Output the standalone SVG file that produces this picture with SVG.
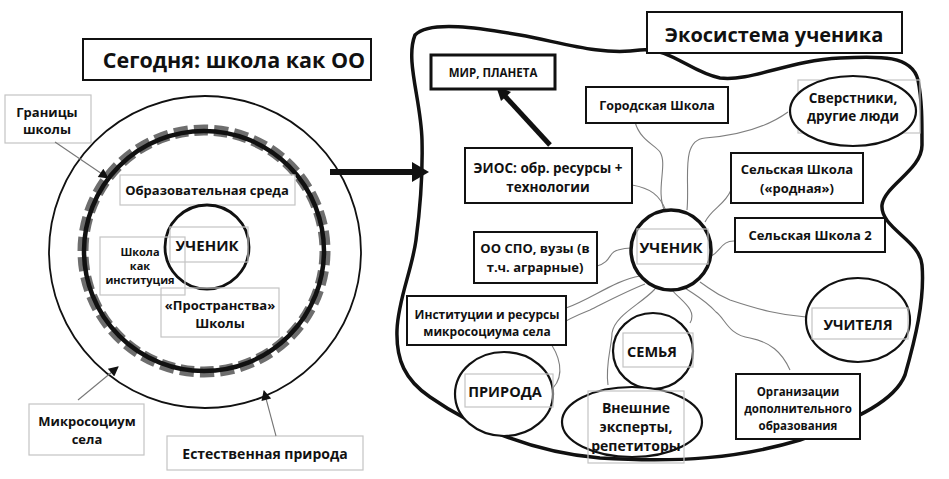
<svg xmlns="http://www.w3.org/2000/svg" width="949" height="479" viewBox="0 0 949 479">
<defs>
<style>
text{font-family:"Open Sans","Liberation Sans",sans-serif;font-weight:bold;fill:#111;text-anchor:middle}
.tb{fill:#fff;stroke:#111;stroke-width:2}
.gb{fill:none;stroke:#c4c4c4;stroke-width:1.2}
.ell{fill:#fff;stroke:#111;stroke-width:2.2}
.con{fill:none;stroke:#7e7e7e;stroke-width:1.1}
.call{fill:none;stroke:#777;stroke-width:1.1}
</style>
<marker id="ah" viewBox="0 0 10 10" refX="9" refY="5" markerWidth="12" markerHeight="10" markerUnits="userSpaceOnUse" orient="auto"><path d="M0,0 L10,5 L0,10 Z" fill="#111"/></marker>
</defs>
<rect width="949" height="479" fill="#fff"/>

<!-- LEFT -->
<g id="title-left"><rect class="tb" x="83" y="39" width="288" height="41"/><text x="234" y="68" font-size="21.5">Сегодня: школа как ОО</text></g>
<g id="outer-circle"><circle cx="205" cy="252" r="156" fill="none" stroke="#111" stroke-width="1.8"/></g>
<g id="school-border"><circle cx="204" cy="251" r="121" fill="none" stroke="#6e6e6e" stroke-width="11" stroke-dasharray="14 6"/><circle cx="204" cy="251" r="120" fill="none" stroke="#111" stroke-width="4.5"/></g>
<g id="edu-env"><rect x="120" y="175" width="175" height="30" fill="#fff" class="gb"/><text x="207" y="195" font-size="13">Образовательная среда</text></g>
<g id="student-left"><circle cx="207" cy="247" r="42" fill="#fff" stroke="#111" stroke-width="2.8"/><rect class="gb" x="170" y="227" width="78" height="35"/><text x="207" y="251" font-size="15">УЧЕНИК</text></g>
<g id="school-inst"><rect class="gb" x="100" y="237" width="85" height="58"/><text font-size="11"><tspan x="140" y="256">Школа</tspan><tspan x="140" y="270">как</tspan><tspan x="140" y="284">институция</tspan></text></g>
<g id="spaces"><rect x="161" y="288" width="118" height="49" fill="#fff" class="gb"/><text font-size="13"><tspan x="220" y="310">«Пространства»</tspan><tspan x="220" y="328">Школы</tspan></text></g>
<g id="borders-label"><rect class="gb" x="5" y="95" width="86" height="48"/><text font-size="13"><tspan x="47" y="117">Границы</tspan><tspan x="47" y="134">школы</tspan></text></g>
<g id="micro-label"><rect class="gb" x="29" y="404" width="115" height="51"/><text font-size="13"><tspan x="87" y="426">Микросоциум</tspan><tspan x="87" y="444">села</tspan></text></g>
<g id="nature-label"><rect class="gb" x="167" y="436" width="196" height="34"/><text x="265" y="459" font-size="14">Естественная природа</text></g>

<g id="callouts">
<path class="call" d="M55,142 L108,178" marker-end="url(#ah)"/>
<path class="call" d="M78,400 L118,367" marker-end="url(#ah)"/>
<path class="call" d="M276,436 L264,391" marker-end="url(#ah)"/>
</g>

<g id="big-arrow"><path d="M330,172 L418,172" stroke="#111" stroke-width="6" fill="none"/><path d="M412,162 L429,172 L412,182 Z" fill="#111"/></g>

<!-- RIGHT -->
<g id="ecosystem-blob"><path d="M415,35 C430,20 480,28 520,35 C560,42 600,56 640,50 C670,47 690,72 720,78 C750,82 790,60 840,58 C880,56 912,55 918,80 C922,100 922,120 922,145 C922,170 885,185 882,205 C880,228 920,240 922,265 C925,300 915,340 905,375 C895,400 860,418 800,440 C740,458 680,463 600,458 C530,452 470,425 430,397 C405,380 396,360 397,330 C398,300 412,270 416,240 C420,210 423,180 422,140 C421,100 405,60 415,35 Z" fill="none" stroke="#111" stroke-width="3.5"/></g>

<g id="title-right"><rect class="tb" x="647" y="12" width="255" height="41"/><text x="774" y="42" font-size="20">Экосистема ученика</text></g>

<g id="connectors">
<path class="con" d="M635,122 C640,140 655,145 660,152 C668,165 655,190 665,212"/>
<path class="con" d="M788,112 C770,125 745,135 705,138 C680,140 690,180 687,210"/>
<path class="con" d="M632,185 C650,188 660,195 666,211"/>
<path class="con" d="M731,190 C725,205 712,208 705,222"/>
<path class="con" d="M735,241 C722,240 720,252 711,256"/>
<path class="con" d="M597,266 C612,262 608,252 618,250 C625,248 628,248 631,248"/>
<path class="con" d="M566,308 C590,300 615,280 640,276"/>
<path class="con" d="M553,388 C565,375 560,355 548,340 C545,330 570,318 590,310 C610,300 625,292 645,284"/>
<path class="con" d="M690,323 C698,310 680,300 672,290"/>
<path class="con" d="M608,385 C605,365 612,345 612,333 C615,315 640,305 655,289"/>
<path class="con" d="M806,317 C780,315 760,310 730,300 C715,294 712,290 700,282"/>
<path class="con" d="M790,370 C782,352 770,342 750,338 C728,335 725,318 716,312 C705,300 695,295 685,288"/>
</g>

<g id="arrow-mir"><path d="M550,145 L504,95" stroke="#111" stroke-width="5" fill="none"/><path d="M496,86 L511,92 L501,101 Z" fill="#111"/></g>

<g id="mir"><rect x="431" y="55" width="124" height="34" fill="#fff" stroke="#111" stroke-width="3"/><text x="493" y="77" font-size="11.5">МИР, ПЛАНЕТА</text></g>
<g id="city-school"><rect class="tb" x="586" y="87" width="142" height="36"/><text x="657" y="110" font-size="12.5">Городская Школа</text></g>
<g id="peers"><rect class="gb" x="798" y="80" width="122" height="53"/><ellipse class="ell" cx="853" cy="111" rx="63" ry="35" fill="none"/><text font-size="13.5"><tspan x="853" y="103">Сверстники,</tspan><tspan x="853" y="121">другие люди</tspan></text></g>
<g id="eios"><rect class="tb" x="465" y="148" width="167" height="55"/><text font-size="13.5"><tspan x="548" y="173">ЭИОС: обр. ресурсы +</tspan><tspan x="548" y="192">технологии</tspan></text></g>
<g id="rural-school"><rect class="tb" x="731" y="153" width="132" height="50"/><text font-size="13"><tspan x="797" y="174">Сельская Школа</tspan><tspan x="797" y="193">(«родная»)</tspan></text></g>
<g id="rural-school-2"><rect class="tb" x="735" y="218" width="150" height="34"/><text x="810" y="240" font-size="13">Сельская Школа 2</text></g>
<g id="student-right"><circle cx="671" cy="250" r="40" fill="#fff" stroke="#111" stroke-width="3.5"/><rect class="gb" x="637" y="229" width="71" height="35"/><text x="671" y="253" font-size="15">УЧЕНИК</text></g>
<g id="spo"><rect class="tb" x="474" y="232" width="123" height="51"/><text font-size="13"><tspan x="535" y="253">ОО СПО, вузы (в</tspan><tspan x="535" y="272">т.ч. аграрные)</tspan></text></g>
<g id="institutions"><rect class="tb" x="407" y="296" width="159" height="49"/><text font-size="12"><tspan x="487" y="319">Институции и ресурсы</tspan><tspan x="487" y="336">микросоциума села</tspan></text></g>
<g id="nature"><ellipse class="ell" cx="504" cy="394" rx="49" ry="42"/><rect class="gb" x="465" y="374" width="88" height="33"/><text x="505" y="397" font-size="14.5">ПРИРОДА</text></g>
<g id="family"><ellipse class="ell" cx="653" cy="351" rx="40" ry="38"/><rect class="gb" x="623" y="333" width="70" height="34"/><text x="652" y="357" font-size="14.5">СЕМЬЯ</text></g>
<g id="experts"><ellipse class="ell" cx="632" cy="422" rx="70" ry="35"/><rect class="gb" x="588" y="391" width="96" height="72"/><text font-size="14"><tspan x="636" y="413">Внешние</tspan><tspan x="636" y="432">эксперты,</tspan><tspan x="636" y="451">репетиторы</tspan></text></g>
<g id="teachers"><ellipse class="ell" cx="858" cy="320" rx="52" ry="42"/><rect class="gb" x="812" y="308" width="96" height="31"/><text x="858" y="330" font-size="14.5">УЧИТЕЛЯ</text></g>
<g id="extra-edu"><rect class="tb" x="736" y="374" width="124" height="65"/><text font-size="11.5"><tspan x="798" y="396">Организации</tspan><tspan x="798" y="413">дополнительного</tspan><tspan x="798" y="430">образования</tspan></text></g>
</svg>
